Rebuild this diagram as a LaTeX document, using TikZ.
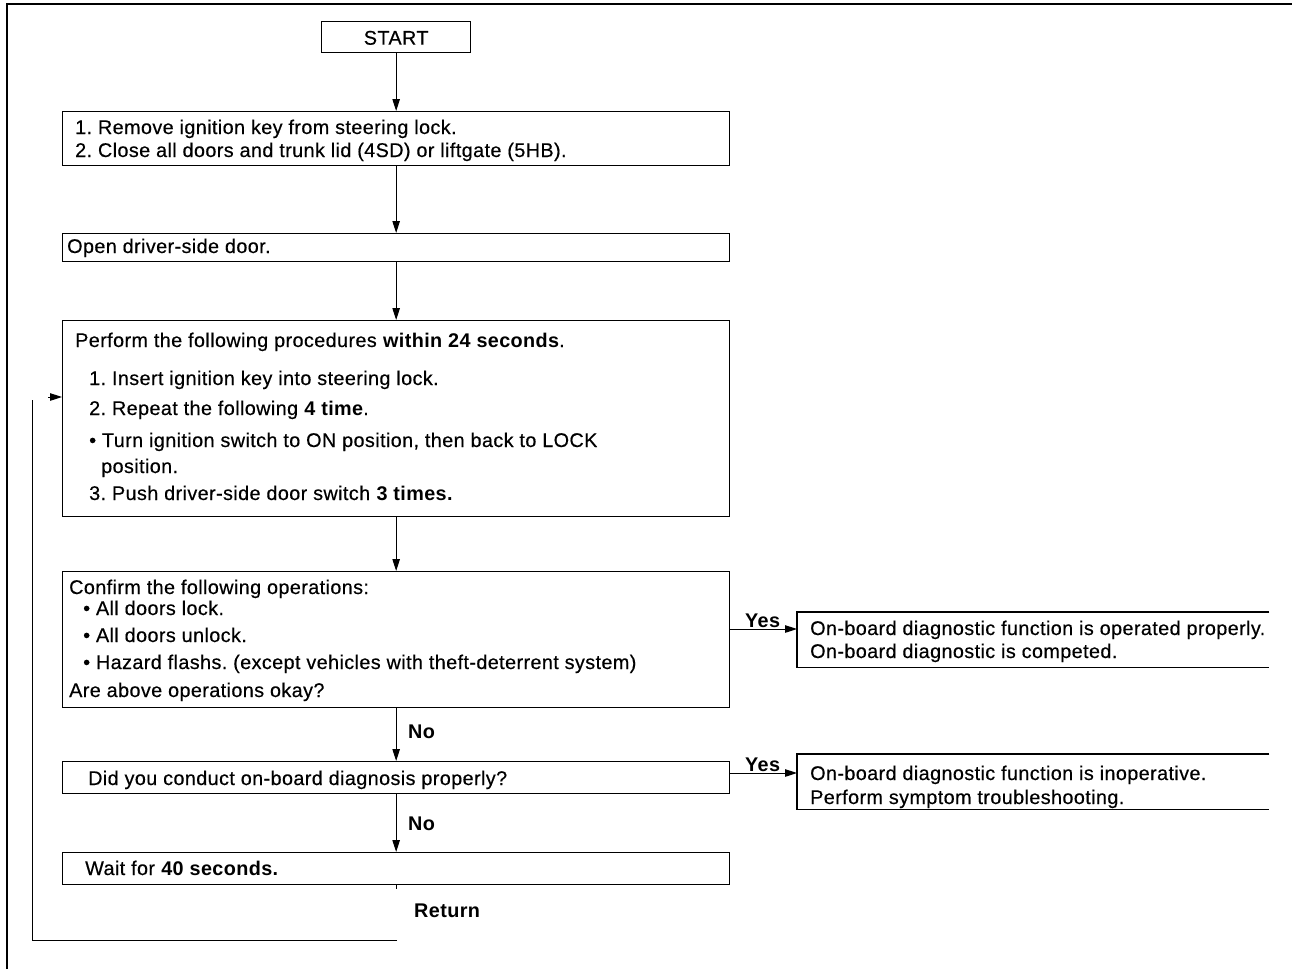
\documentclass[tikz,border=0pt]{standalone}
\usepackage{fontspec}
\setmainfont{Liberation Sans}[LetterSpace=2,UprightFeatures={FakeBold=0.4}]
\usetikzlibrary{arrows.meta,calc}
\frenchspacing
\begin{document}
\begin{tikzpicture}[x=1pt,y=-1pt,
  font=\fontsize{19.8}{23}\selectfont\frenchspacing,
  box/.style={draw,line width=1.3pt,minimum width=667pt,anchor=north west,inner sep=0pt},
  rbox/.style={minimum width=472pt,anchor=north west,inner sep=0pt},
  txt/.style={anchor=base west,inner sep=0pt},
  lbl/.style={anchor=base west,inner sep=0pt,font=\fontsize{19.8}{23}\selectfont\bfseries},
  arr/.style={line width=1pt,-{Triangle[length=12pt,width=7.5pt]}},
  ln/.style={line width=1pt}]
\useasboundingbox (0,0) rectangle (1292,969);
% frame
\draw[line width=1.8pt] (7,969) -- (7,4) -- (1292,4);
% nodes
\node[box,minimum width=149pt,minimum height=31pt] (start) at (321,21) {};
\node[inner sep=0pt,anchor=base] (starttxt) at ([yshift=-7.5pt]start.center) {START};
\node[box,minimum height=54pt] (b1) at (62,111) {};
\node[box,minimum height=28pt] (b2) at (62,233) {};
\node[box,minimum height=196pt] (b3) at (62,320) {};
\node[box,minimum height=136pt] (b4) at (62,571) {};
\node[box,minimum height=32pt] (b5) at (62,761) {};
\node[box,minimum height=32pt] (b6) at (62,852) {};
\node[rbox,minimum height=55pt] (r1) at (797,612) {};
\node[rbox,minimum height=55pt] (r2) at (797,754) {};
\draw[line width=1.3pt] (r1.north east) -- (r1.north west) -- (r1.south west) -- (r1.south east);
\draw[line width=1.3pt] (r2.north east) -- (r2.north west) -- (r2.south west) -- (r2.south east);
% texts
\node[txt] (t11) at (75,134) {1. Remove ignition key from steering lock.};
\node[txt] (t12) at (75,157) {2. Close all doors and trunk lid (4SD) or liftgate (5HB).};
\node[txt] (t21) at (67,253) {Open driver-side door.};
\node[txt] (t31) at (75,347) {Perform the following procedures \textbf{within 24 seconds}.};
\node[txt] (t32) at (89,385) {1. Insert ignition key into steering lock.};
\node[txt] (t33) at (89,415) {2. Repeat the following \textbf{4 time}.};
\node[txt] (t34) at (89,447) {\textbullet\ Turn ignition switch to ON position, then back to LOCK};
\node[txt] (t35) at (101,473) {position.};
\node[txt] (t36) at (89,500) {3. Push driver-side door switch \textbf{3 times.}};
\node[txt] (t41) at (69,594) {Confirm the following operations:};
\node[txt] (t42) at (83,615) {\textbullet\ All doors lock.};
\node[txt] (t43) at (83,642) {\textbullet\ All doors unlock.};
\node[txt] (t44) at (83,669) {\textbullet\ Hazard flashs. (except vehicles with theft-deterrent system)};
\node[txt] (t45) at (69,697) {Are above operations okay?};
\node[txt] (t51) at (88,785) {Did you conduct on-board diagnosis properly?};
\node[txt] (t61) at (85,875) {Wait for \textbf{40 seconds.}};
\node[txt] (tr11) at (810,635) {On-board diagnostic function is operated properly.};
\node[txt] (tr12) at (810,658) {On-board diagnostic is competed.};
\node[txt] (tr21) at (810,780) {On-board diagnostic function is inoperative.};
\node[txt] (tr22) at (810,804) {Perform symptom troubleshooting.};
% labels
\node[lbl] (yes1) at (745,627) {Yes};
\node[lbl] (yes2) at (745,771) {Yes};
\node[lbl] (no1) at (408,738) {No};
\node[lbl] (no2) at (408,830) {No};
\node[lbl] (ret) at (414,917) {Return};
% connectors
\draw[arr] (start.south) -- (b1.north);
\draw[arr] (b1.south) -- (b2.north);
\draw[arr] (b2.south) -- (b3.north);
\draw[arr] (b3.south) -- (b4.north);
\draw[arr] (b4.south) -- (b5.north);
\draw[arr] (b5.south) -- (b6.north);
\coordinate (y1) at (729,629);
\coordinate (y2) at (729,773);
\draw[arr] (y1) -- (y1 -| r1.west);
\draw[arr] (y2) -- (y2 -| r2.west);
% return
\coordinate (rb) at (397,940);
\coordinate (rc) at (32,940);
\coordinate (rt) at (32,400);
\coordinate (ra) at (48,397);
\draw[ln] (b6.south) -- ++(0,4);
\draw[ln] (rb) -- (rc) -- (rt);
\draw[arr] (ra) -- (ra -| b3.west);
\end{tikzpicture}
\end{document}
